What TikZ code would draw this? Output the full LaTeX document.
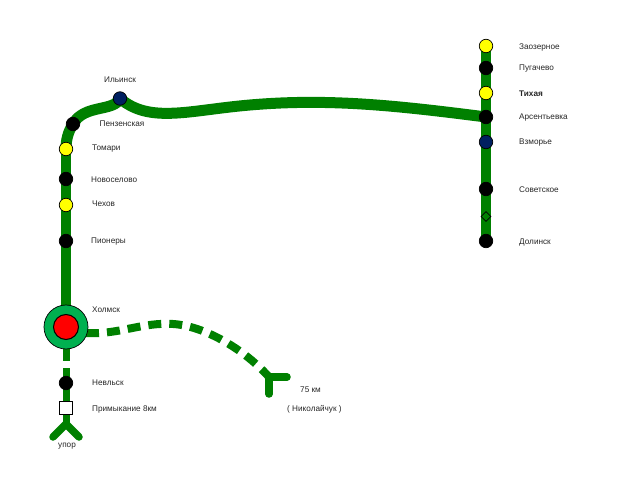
\documentclass[tikz,border=0pt]{standalone}
\usepackage{fontspec}
\setmainfont{Liberation Sans}
\usepackage{xcolor}
\usepackage{tikz}
\usetikzlibrary{arrows.meta,positioning,shapes.geometric,fit,backgrounds}
\definecolor{linegreen}{HTML}{008000}
\definecolor{hubgreen}{HTML}{00B050}
\definecolor{stnavy}{HTML}{002060}
\definecolor{styellow}{HTML}{FFFF00}

\begin{document}
\begin{tikzpicture}[
    x=1pt, y=-1pt,
    track/.style={draw=linegreen, line width=9.5pt},
    curve/.style={draw=linegreen, line width=11pt},
    thin track/.style={draw=linegreen, line width=7pt},
    spur/.style={draw=linegreen, line width=7.5pt, line cap=round},
    branch/.style={draw=linegreen, line width=8pt, dash pattern=on 13pt off 8pt},
    stn/.style={circle, draw=black, line width=0.7pt, minimum size=13.5pt, inner sep=0pt},
    halt/.style={stn, fill=black},
    pass/.style={stn, fill=styellow},
    bay/.style={stn, fill=stnavy},
    hub/.style={stn, fill=hubgreen, minimum size=44pt},
    hubcore/.style={stn, line width=1pt, fill=red, minimum size=25pt},
    stop/.style={draw=black, line width=0.7pt, fill=white, minimum size=13pt, inner sep=0pt},
    lbl/.style={inner sep=0pt, font=\fontsize{8.2}{10}\selectfont, text=black!85, anchor=west}
]
\useasboundingbox (0,0) rectangle (623,486);

% west line
\node[bay] (ilyinsk) at (120,98.5) {};
\node[halt] (penza) at (73,124) {};
\node[pass] (tomari) at (66,149) {};
\node[halt] (novoselovo) at (66,179) {};
\node[pass] (chekhov) at (66,205) {};
\node[halt] (pionery) at (66,241) {};
\node[hub] (kholmsk) at (66,327) {};
\node[hubcore] (kholmskin) at (66,327) {};
\node[halt] (nevelsk) at (66,383) {};
\node[stop] (junction) at (66,408) {};
\coordinate (stubend) at (66,361);
\coordinate (stubstart) at (66,368);
\coordinate (fork) at (66,424);
\coordinate (forkl) at (53,437);
\coordinate (forkr) at (79,437);

% east line
\node[pass] (zaozernoe) at (486,46) {};
\node[halt] (pugachevo) at (486,68) {};
\node[pass] (tikhaya) at (486,93) {};
\node[halt] (arsentyevka) at (486,117) {};
\node[bay] (vzmorye) at (486,142) {};
\node[halt] (sovetskoe) at (486,189) {};
\node[halt] (dolinsk) at (486,241) {};
\node[diamond, draw=black, line width=0.8pt, minimum width=10pt, minimum height=10pt, inner sep=0pt] (crossing) at (486,216.5) {};

% branch to the fork
\coordinate (hubexit) at (86,333);
\coordinate (bend) at (173,324);
\coordinate (forkb) at (269,377);
\coordinate (forkc) at (287,377);
\coordinate (forkd) at (269,394);

\begin{scope}[on background layer]
\draw[track] (zaozernoe.center) -- (dolinsk.center);
\draw[curve] (arsentyevka.center) .. controls (400,106) and (330,98) .. (250,105)
    .. controls (190,110) and (150,124) .. (ilyinsk.center);
\draw[curve] (ilyinsk.center) .. controls (114,112) and (84,104) .. (penza.center);
\draw[curve] (penza.center) .. controls (68,132) and (66,140) .. (tomari.center);
\draw[track] (tomari.center) -- (kholmsk.center);
\draw[thin track] (kholmsk.center) -- (stubend);
\draw[thin track] (stubstart) -- (fork);
\draw[spur] (forkl) -- (fork) -- (forkr);
\draw[branch] (hubexit) .. controls (118,335) and (142,322) .. (bend)
    .. controls (205,326) and (245,350) .. (forkb);
\draw[spur] (forkc) -- (forkb) -- (forkd);
\end{scope}

% labels
\node[lbl] (ilyinsklbl) at (104,80) {Ильинск};
\node[lbl] (penzalbl) at (99.5,124) {Пензенская};
\node[lbl] (tomarilbl) at (92,149) {Томари};
\node[lbl] (novoselovolbl) at (91,180) {Новоселово};
\node[lbl] (chekhovlbl) at (92,204) {Чехов};
\node[lbl] (pionerylbl) at (91,242) {Пионеры};
\node[lbl] (kholmsklbl) at (92,310) {Холмск};
\node[lbl] (nevelsklbl) at (92,383) {Невльск};
\node[lbl] (junctionlbl) at (92,409) {Примыкание 8км};
\node[lbl] (upor) at (58,446) {упор};
\node[lbl] (kmlbl) at (300,390) {75 км};
\node[lbl] (nikolbl) at (287,409) {( Николайчук )};
\node[lbl] (zaozernoelbl) at (519,47) {Заозерное};
\node[lbl] (pugachevolbl) at (519,69) {Пугачево};
\node[lbl, font=\fontsize{8.2}{10}\selectfont\bfseries] (tikhayalbl) at (519,94) {Тихая};
\node[lbl] (arsentyevkalbl) at (519,118) {Арсентьевка};
\node[lbl] (vzmoryelbl) at (519,143) {Взморье};
\node[lbl] (sovetskoelbl) at (519,190) {Советское};
\node[lbl] (dolinsklbl) at (519,242) {Долинск};
\end{tikzpicture}
\end{document}
